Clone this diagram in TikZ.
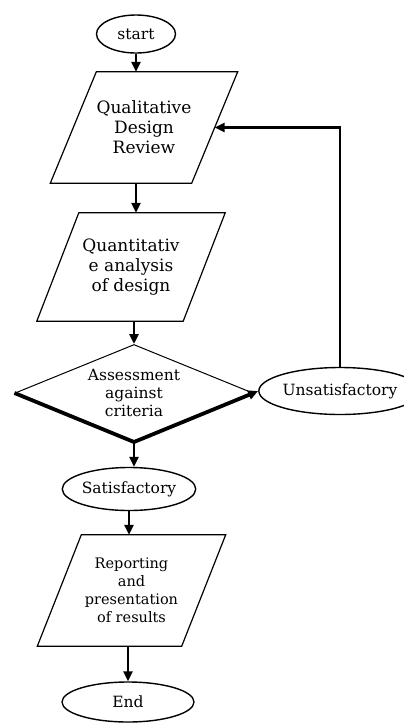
\documentclass[tikz,border=0pt]{standalone}
\usepackage{fontspec}
\setmainfont{DejaVu Serif}
\usetikzlibrary{shapes.geometric}
\usetikzlibrary{arrows.meta}
\tikzset{%
    term/.style={ellipse,draw,line width=1.4pt,inner sep=0pt}
}

\begin{document}
\begin{tikzpicture}[
        x=1pt,y=1pt,
        term/.style={ellipse,draw,line width=1.4pt,inner sep=0pt,font=\fontsize{15.5}{18}\selectfont},
        io/.style={rectangle,inner sep=0pt,align=center,font=\fontsize{17}{20}\selectfont},
        slant/.style={line width=1.2pt,line join=miter},
        dec/.style={diamond,aspect=2.45,draw,line width=1pt,inner sep=0pt,align=center,font=\fontsize{15.5}{18}\selectfont},
        flow/.style={line width=2.6pt,-{Triangle[length=10pt,width=9pt]}}
        ]
        \useasboundingbox (0,0) rectangle (404,-724);

        \node[term,minimum width=79,minimum height=38] (start) at (136,-34){start};
        \node[io,minimum width=141,minimum height=111] (qual) at (144,-127.5){Qualitative\\Design\\Review};
        \node[io,minimum width=146,minimum height=108] (quant) at (131,-267){Quantitativ\\e analysis\\of design};
        \node[dec,minimum width=238,minimum height=97] (assess) at (134,-393){Assessment\\against\\criteria};
        \node[term,minimum width=120,minimum height=47] (unsat) at (340,-391){Unsatisfactory};
        \node[term,minimum width=132,minimum height=43] (sat) at (129,-489){Satisfactory};
        \node[io,minimum width=144,minimum height=111,font=\fontsize{14.5}{18}\selectfont] (report) at (131.5,-590.5){Reporting\\and\\presentation\\of results};
        \node[term,minimum width=132,minimum height=40] (end) at (128,-702){End};

        % parallelogram outlines round the io boxes
        \draw[slant] ([xshift=23]qual.north west) -- ([xshift=23]qual.north east)
            -- ([xshift=-23]qual.south east) -- ([xshift=-23]qual.south west) -- cycle;
        \draw[slant] ([xshift=21]quant.north west) -- ([xshift=21]quant.north east)
            -- ([xshift=-21]quant.south east) -- ([xshift=-21]quant.south west) -- cycle;
        \draw[slant] ([xshift=22]report.north west) -- ([xshift=22]report.north east)
            -- ([xshift=-22]report.south east) -- ([xshift=-22]report.south west) -- cycle;

        % heavy lower edges of the decision
        \draw[line width=3.8pt,line join=miter] (assess.west) -- (assess.south) -- (assess.east);

        \draw[flow] (start.south) -- (start.south |- qual.north);
        \draw[flow] (start.south |- qual.south) -- (start.south |- quant.north);
        \draw[flow] (assess.north |- quant.south) -- (assess.north);
        \draw[flow] (assess.east) -- (unsat.west);
        \draw[flow] (unsat.north) |- (qual.east);
        \draw[flow] (assess.south) -- (assess.south |- sat.north);
        \draw[flow] (sat.south) -- (sat.south |- report.north);
        \draw[flow] (end.north |- report.south) -- (end.north);
    \end{tikzpicture}
\end{document}
